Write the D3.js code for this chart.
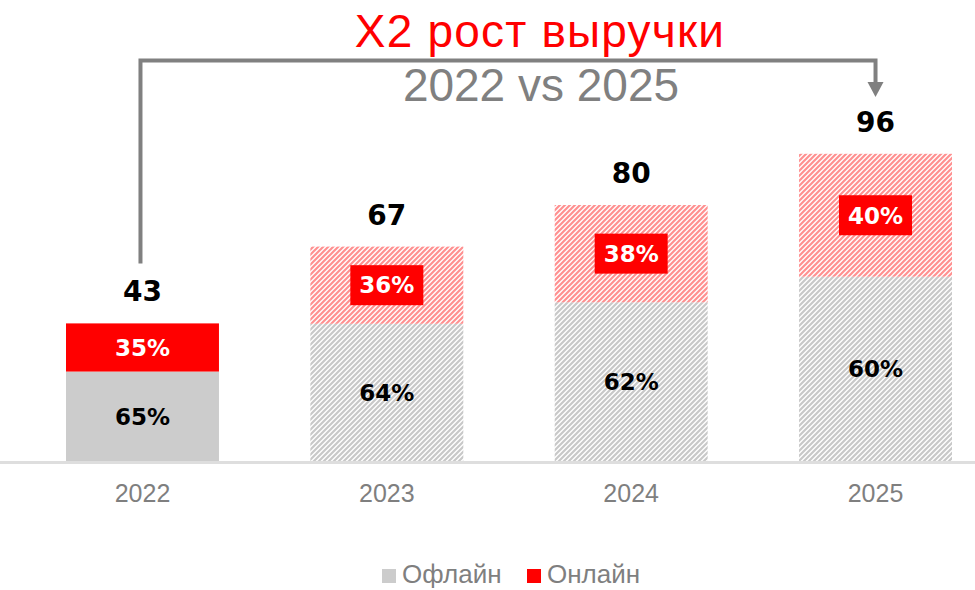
<!DOCTYPE html>
<html>
<head>
<meta charset="utf-8">
<script src="https://cdn.jsdelivr.net/npm/d3@7"></script>
<style>
  body { margin: 0; background: #fff; }
  svg { display: block; }
</style>
</head>
<body>
<svg id="chart" width="975" height="590" viewBox="0 0 975 590"></svg>
<script>
// chart data
const years = ["2022", "2023", "2024", "2025"];
const totals = [43, 67, 80, 96];
const offlineShare = [65, 64, 62, 60];
const onlineShare = [35, 36, 38, 40];
const hatched = [false, true, true, true];
const legendLabels = ["Офлайн", "Онлайн"];

const svg = d3.select("#chart");
const width = 975;

const RED = "#ff0000", GRAY = "#cccccc", TXT = "#7f7f7f";

const x = d3.scaleBand().domain(years).range([66, 952]).paddingInner(0.374).paddingOuter(0);
const y = d3.scaleLinear().domain([0, 100]).range([461, 141]);

// hatch patterns
const defs = svg.append("defs");
function hatch(id, color) {
    const p = defs.append("pattern")
        .attr("id", id)
        .attr("patternUnits", "userSpaceOnUse")
        .attr("width", 5).attr("height", 5);
    p.append("path")
        .attr("d", "M0,5 L5,0 M-1,1 L1,-1 M4,6 L6,4")
        .attr("stroke", color)
        .attr("stroke-width", 2.2)
        .attr("stroke-linecap", "square");
}
hatch("hatchRed", "#ff9090");
hatch("hatchGray", "#c8c8c8");

// build rows
const rows = years.map((yr, i) => {
    const off = totals[i] * offlineShare[i] / 100;
    return { year: yr, total: totals[i], off: off, offPct: offlineShare[i], onPct: onlineShare[i], hatched: hatched[i] };
});

const bars = svg.append("g").selectAll("g").data(rows).enter().append("g");

// offline part
bars.append("rect")
    .attr("x", d => x(d.year))
    .attr("width", x.bandwidth())
    .attr("y", d => y(d.off))
    .attr("height", d => y(0) - y(d.off))
    .attr("fill", d => d.hatched ? "url(#hatchGray)" : GRAY);

// online part
bars.append("rect")
    .attr("x", d => x(d.year))
    .attr("width", x.bandwidth())
    .attr("y", d => y(d.total))
    .attr("height", d => y(d.off) - y(d.total))
    .attr("fill", d => d.hatched ? "url(#hatchRed)" : RED);

// axis baseline
svg.append("line")
    .attr("x1", 0).attr("x2", width)
    .attr("y1", y(0) + 1.5).attr("y2", y(0) + 1.5)
    .attr("stroke", "#dedede")
    .attr("stroke-width", 3);

// category labels
const xAxis = svg.append("g")
    .attr("transform", `translate(0,${y(0) + 3})`)
    .call(d3.axisBottom(x).tickSize(0).tickPadding(20));
xAxis.select(".domain").remove();
xAxis.selectAll("text")
    .attr("fill", TXT)
    .style("font-family", "'Liberation Sans', Arial, sans-serif")
    .style("font-size", "25px");

const boldFont = "'DejaVu Sans', sans-serif";

// offline percent labels
bars.append("text")
    .attr("x", d => x(d.year) + x.bandwidth() / 2)
    .attr("y", d => (y(0) + y(d.off)) / 2)
    .attr("dy", "0.36em")
    .attr("text-anchor", "middle")
    .attr("fill", "#000")
    .style("font-family", boldFont)
    .style("font-weight", "bold")
    .style("font-size", "23px")
    .text(d => d.offPct + "%");

// online percent boxes
const boxW = 73, boxH = 40;
bars.filter(d => d.hatched).append("rect")
    .attr("x", d => x(d.year) + x.bandwidth() / 2 - boxW / 2)
    .attr("y", d => (y(d.off) + y(d.total)) / 2 - boxH / 2)
    .attr("width", boxW).attr("height", boxH)
    .attr("fill", RED);

bars.append("text")
    .attr("x", d => x(d.year) + x.bandwidth() / 2)
    .attr("y", d => (y(d.off) + y(d.total)) / 2)
    .attr("dy", "0.36em")
    .attr("text-anchor", "middle")
    .attr("fill", "#fff")
    .style("font-family", boldFont)
    .style("font-weight", "bold")
    .style("font-size", "23px")
    .text(d => d.onPct + "%");

// totals
bars.append("text")
    .attr("x", d => x(d.year) + x.bandwidth() / 2)
    .attr("y", d => y(d.total) - 22)
    .attr("text-anchor", "middle")
    .attr("fill", "#000")
    .style("font-family", boldFont)
    .style("font-weight", "bold")
    .style("font-size", "28px")
    .text(d => d.total);

// bracket arrow 2022 -> 2025
const xa = x(years[0]) + x.bandwidth() / 2 - 2;
const xb = x(years[3]) + x.bandwidth() / 2;
const topY = 60.5;
svg.append("path")
    .attr("d", `M${xa},${y(totals[0]) - 60} V${topY} H${xb} V84`)
    .attr("fill", "none")
    .attr("stroke", "#808080")
    .attr("stroke-width", 4);
svg.append("path")
    .attr("d", `M${xb - 8},82 L${xb + 8},82 L${xb},97 Z`)
    .attr("fill", "#808080");

// titles
svg.append("text")
    .attr("x", 540).attr("y", 47)
    .attr("text-anchor", "middle")
    .attr("fill", RED)
    .style("font-family", "'Liberation Sans', Arial, sans-serif")
    .style("font-size", "46px")
    .style("letter-spacing", "1.2px")
    .text("X2 рост выручки");

svg.append("text")
    .attr("x", 541).attr("y", 101)
    .attr("text-anchor", "middle")
    .attr("fill", "#808080")
    .style("font-family", "'Liberation Sans', Arial, sans-serif")
    .style("font-size", "46px")
    .text(years[0] + " vs " + years[3]);

// legend
const legend = svg.append("g").attr("transform", "translate(382,569)");
const legendColors = [GRAY, RED];
const legendX = [0, 145];
legendLabels.forEach((lab, i) => {
    legend.append("rect")
        .attr("x", legendX[i]).attr("y", 0)
        .attr("width", 14).attr("height", 14)
        .attr("fill", legendColors[i]);
    legend.append("text")
        .attr("x", legendX[i] + 20).attr("y", 14)
        .attr("fill", TXT)
        .style("font-family", "'Liberation Sans', Arial, sans-serif")
        .style("font-size", "26px")
        .text(lab);
});
</script>
</body>
</html>
